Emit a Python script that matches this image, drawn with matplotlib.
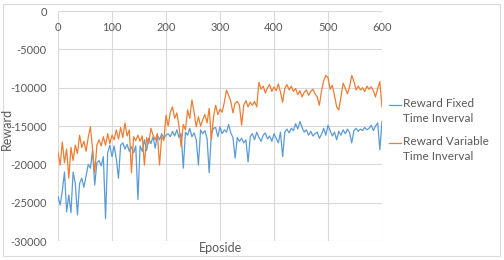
import numpy as np
import matplotlib.pyplot as plt
from matplotlib.lines import Line2D
from matplotlib.patches import Rectangle

# episodes sampled every 4 steps
episodes = np.arange(0, 601, 4)

reward_fixed = [
    -24200, -25300, -23500, -21000, -26200, -24000, -26300, -21000, -22500, -26600,
    -22500, -21800, -23000, -21500, -20000, -20500, -18200, -22700, -19800, -19500,
    -20200, -19000, -27100, -18500, -17500, -19000, -17600, -19300, -21800, -17500,
    -17200, -18000, -17400, -18300, -17700, -18500, -17600, -24600, -17600, -18300,
    -16800, -18200, -16600, -17300, -16400, -17900, -16200, -16800, -16000, -16600,
    -16200, -16000, -16400, -15700, -16300, -15500, -16500, -16000, -20500, -15800,
    -16200, -15300, -16400, -15900, -16800, -20100, -15500, -16000, -15600, -16600,
    -21100, -16000, -15300, -15200, -16400, -15100, -16000, -15500, -15800, -14800,
    -15900, -16500, -19200, -16500, -17000, -16600, -17200, -16800, -19700, -16400,
    -16000, -16800, -15800, -16500, -17000, -16200, -15900, -16700, -16300, -17000,
    -16000, -16600, -17200, -15800, -19000, -15800, -15400, -15900, -15300, -15600,
    -14700, -15400, -14400, -15200, -15800, -15500, -16200, -15700, -16300, -16000,
    -15800, -16600, -16100, -15300, -16200, -14900, -15600, -16300, -15800, -16800,
    -15700, -16200, -15500, -16000, -15400, -15900, -17200, -15600, -15300, -15700,
    -15400, -15600, -15200, -15500, -15300, -14900, -15600, -15000, -14600, -18100,
    -14400,
]

reward_variable = [
    -18400, -20100, -17100, -19800, -18000, -21800, -17800, -19500, -17500, -18600,
    -16200, -17800, -17000, -18300, -16500, -15100, -18000, -21100, -17500, -16800,
    -17600, -16400, -17500, -16000, -17300, -16200, -16800, -15500, -16700, -15200,
    -16500, -14600, -16300, -15500, -21100, -16400, -16900, -16200, -17000, -16300,
    -20100, -16500, -17300, -15300, -16200, -16800, -16000, -20100, -16400, -16900,
    -13600, -15000, -13200, -12500, -14000, -13300, -15000, -17700, -14800, -15500,
    -12900, -14000, -11600, -13200, -15100, -13800, -15000, -14200, -13500, -14600,
    -12700, -16800, -13800, -12300, -13500, -12800, -13200, -11900, -10300, -11000,
    -11800, -13300, -12000, -11800, -12300, -14900, -12300, -11700, -12500, -11900,
    -12300, -11800, -12500, -9300, -10200, -9800, -10700, -10000, -9600, -10500,
    -9900, -10400, -9500, -10600, -11900, -10100, -9600, -10300, -9800, -10500,
    -10100, -10900, -10400, -11200, -10600, -10300, -11000, -10500, -10200, -10800,
    -11200, -12300, -10400, -9100, -8400, -8700, -10200, -9700, -11000, -12500,
    -12900, -11200, -9400, -10100, -10800, -9900, -8400, -9200, -10300, -9800,
    -10300, -10000, -10500, -9800, -10200, -9900, -10400, -11200, -10100, -9200,
    -12500,
]

series_names = ["Reward Fixed\nTime Inverval", "Reward Variable\nTime Inverval"]
colors = ["#5B9BD5", "#ED7D31"]
text_color = "#595959"
grid_color = "#D9D9D9"

plt.rcParams["font.family"] = ["Lato", "DejaVu Sans"]
plt.rcParams["axes.unicode_minus"] = False  # Excel style hyphen minus

W, H = 504, 260
fig = plt.figure(figsize=(W / 100, H / 100), dpi=100)
ax = fig.add_axes([58 / W, 1 - 241 / H, (382 - 58) / W, (241 - 11) / H])

ax.plot(episodes, reward_fixed, color=colors[0], lw=0.9)
ax.plot(episodes, reward_variable, color=colors[1], lw=0.9)

ax.set_xlim(0, 600)
ax.set_ylim(-30000, 0)
ax.set_xticks(range(0, 601, 100))
ax.set_yticks(range(-30000, 1, 5000))
ax.grid(True, color=grid_color, lw=0.8)
ax.set_axisbelow(True)
for s in ax.spines.values():
    s.set_visible(False)

ax.xaxis.set_ticks_position("top")
ax.tick_params(axis="x", length=0, pad=-16, labelsize=8, colors=text_color)
ax.tick_params(axis="y", length=0, pad=8, labelsize=8, colors=text_color)

fig.text(7 / W, 1 - 129 / H, "Reward", rotation=90, ha="center", va="center",
         fontsize=9, color=text_color)
fig.text(220 / W, 1 - 248 / H, "Eposide", ha="center", va="center",
         fontsize=9, color=text_color)

# legend drawn by hand to mimic the Excel layout
for i, (name, c) in enumerate(zip(series_names, colors)):
    y0 = 105 + i * 38
    fig.add_artist(Line2D([389 / W, 401 / W], [1 - y0 / H, 1 - y0 / H], color=c, lw=0.9))
    fig.text(403 / W, 1 - (y0 - 7) / H, name, ha="left", va="top",
             fontsize=8.5, color=text_color, linespacing=1.5)

# chart border
fig.add_artist(Rectangle((3 / W, 4 / H), (500 - 3) / W, (256 - 4) / H,
                         transform=fig.transFigure, fill=False, ec=grid_color, lw=0.8))

fig.savefig("out.png", dpi=100)
